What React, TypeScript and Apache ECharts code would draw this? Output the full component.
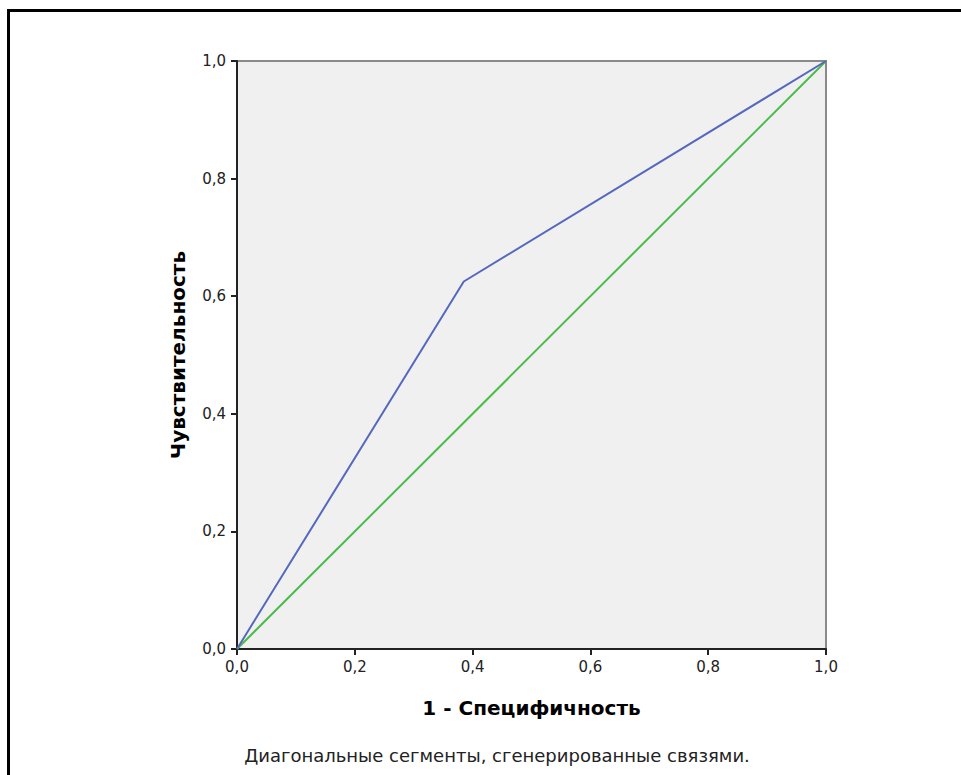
import React, { useEffect, useRef } from "react";
import * as echarts from "echarts";

const rocCurve: [number, number][] = [
  [0, 0],
  [0.385, 0.625],
  [1, 1],
];
const reference: [number, number][] = [
  [0, 0],
  [1, 1],
];
const xTitle = "1 - Специфичность";
const yTitle = "Чувствительность";
const footnote = "Диагональные сегменты, сгенерированные связями.";

const fmt = (v: number) => v.toFixed(1).replace(".", ",");

export default function App() {
  const ref = useRef<HTMLDivElement>(null);
  useEffect(() => {
    if (!ref.current) return;
    const chart = echarts.init(ref.current, undefined, { renderer: "svg" });
    const font = "'DejaVu Sans', 'Liberation Sans', Arial, sans-serif";
    chart.setOption({
      animation: false,
      textStyle: { fontFamily: font },
      grid: {
        left: 237,
        right: 135,
        top: 61,
        bottom: 126,
        show: true,
        backgroundColor: "#F0F0F0",
        borderColor: "#8a8a8a",
        borderWidth: 2,
      },
      xAxis: {
        type: "value",
        min: 0,
        max: 1,
        interval: 0.2,
        splitLine: { show: false },
        axisLine: { show: true, lineStyle: { color: "#222", width: 2 } },
        axisTick: { show: true, length: 6, lineStyle: { color: "#222", width: 2 } },
        axisLabel: { formatter: fmt, color: "#222", fontSize: 15, margin: 10, fontFamily: font },
        name: xTitle,
        nameLocation: "middle",
        nameGap: 49,
        nameTextStyle: { fontSize: 20, fontWeight: "bold", color: "#000", fontFamily: font },
      },
      yAxis: {
        type: "value",
        min: 0,
        max: 1,
        interval: 0.2,
        splitLine: { show: false },
        axisLine: { show: true, lineStyle: { color: "#222", width: 2 } },
        axisTick: { show: true, length: 6, lineStyle: { color: "#222", width: 2 } },
        axisLabel: { formatter: fmt, color: "#222", fontSize: 15, margin: 11, fontFamily: font },
        name: yTitle,
        nameLocation: "middle",
        nameGap: 49,
        nameTextStyle: { fontSize: 20, fontWeight: "bold", color: "#000", fontFamily: font },
      },
      series: [
        {
          type: "line",
          data: reference,
          showSymbol: false,
          lineStyle: { color: "#4CBB4C", width: 2 },
          z: 2,
        },
        {
          type: "line",
          data: rocCurve,
          showSymbol: false,
          lineStyle: { color: "#5568BE", width: 2 },
          z: 3,
        },
      ],
      graphic: [
        { type: "line", shape: { x1: 7, y1: 10.5, x2: 961, y2: 10.5 }, style: { stroke: "#000", lineWidth: 3 } },
        { type: "line", shape: { x1: 8.5, y1: 9, x2: 8.5, y2: 775 }, style: { stroke: "#000", lineWidth: 3 } },
        {
          type: "text",
          x: 497,
          y: 755,
          style: {
            text: footnote,
            fontSize: 18,
            fontFamily: font,
            fill: "#222",
            textAlign: "center",
            textVerticalAlign: "middle",
          },
        },
      ],
    });
    return () => chart.dispose();
  }, []);
  return (
    <div
      ref={ref}
      style={{ position: "fixed", left: 0, top: 0, width: 961, height: 775, background: "#fff" }}
    />
  );
}
